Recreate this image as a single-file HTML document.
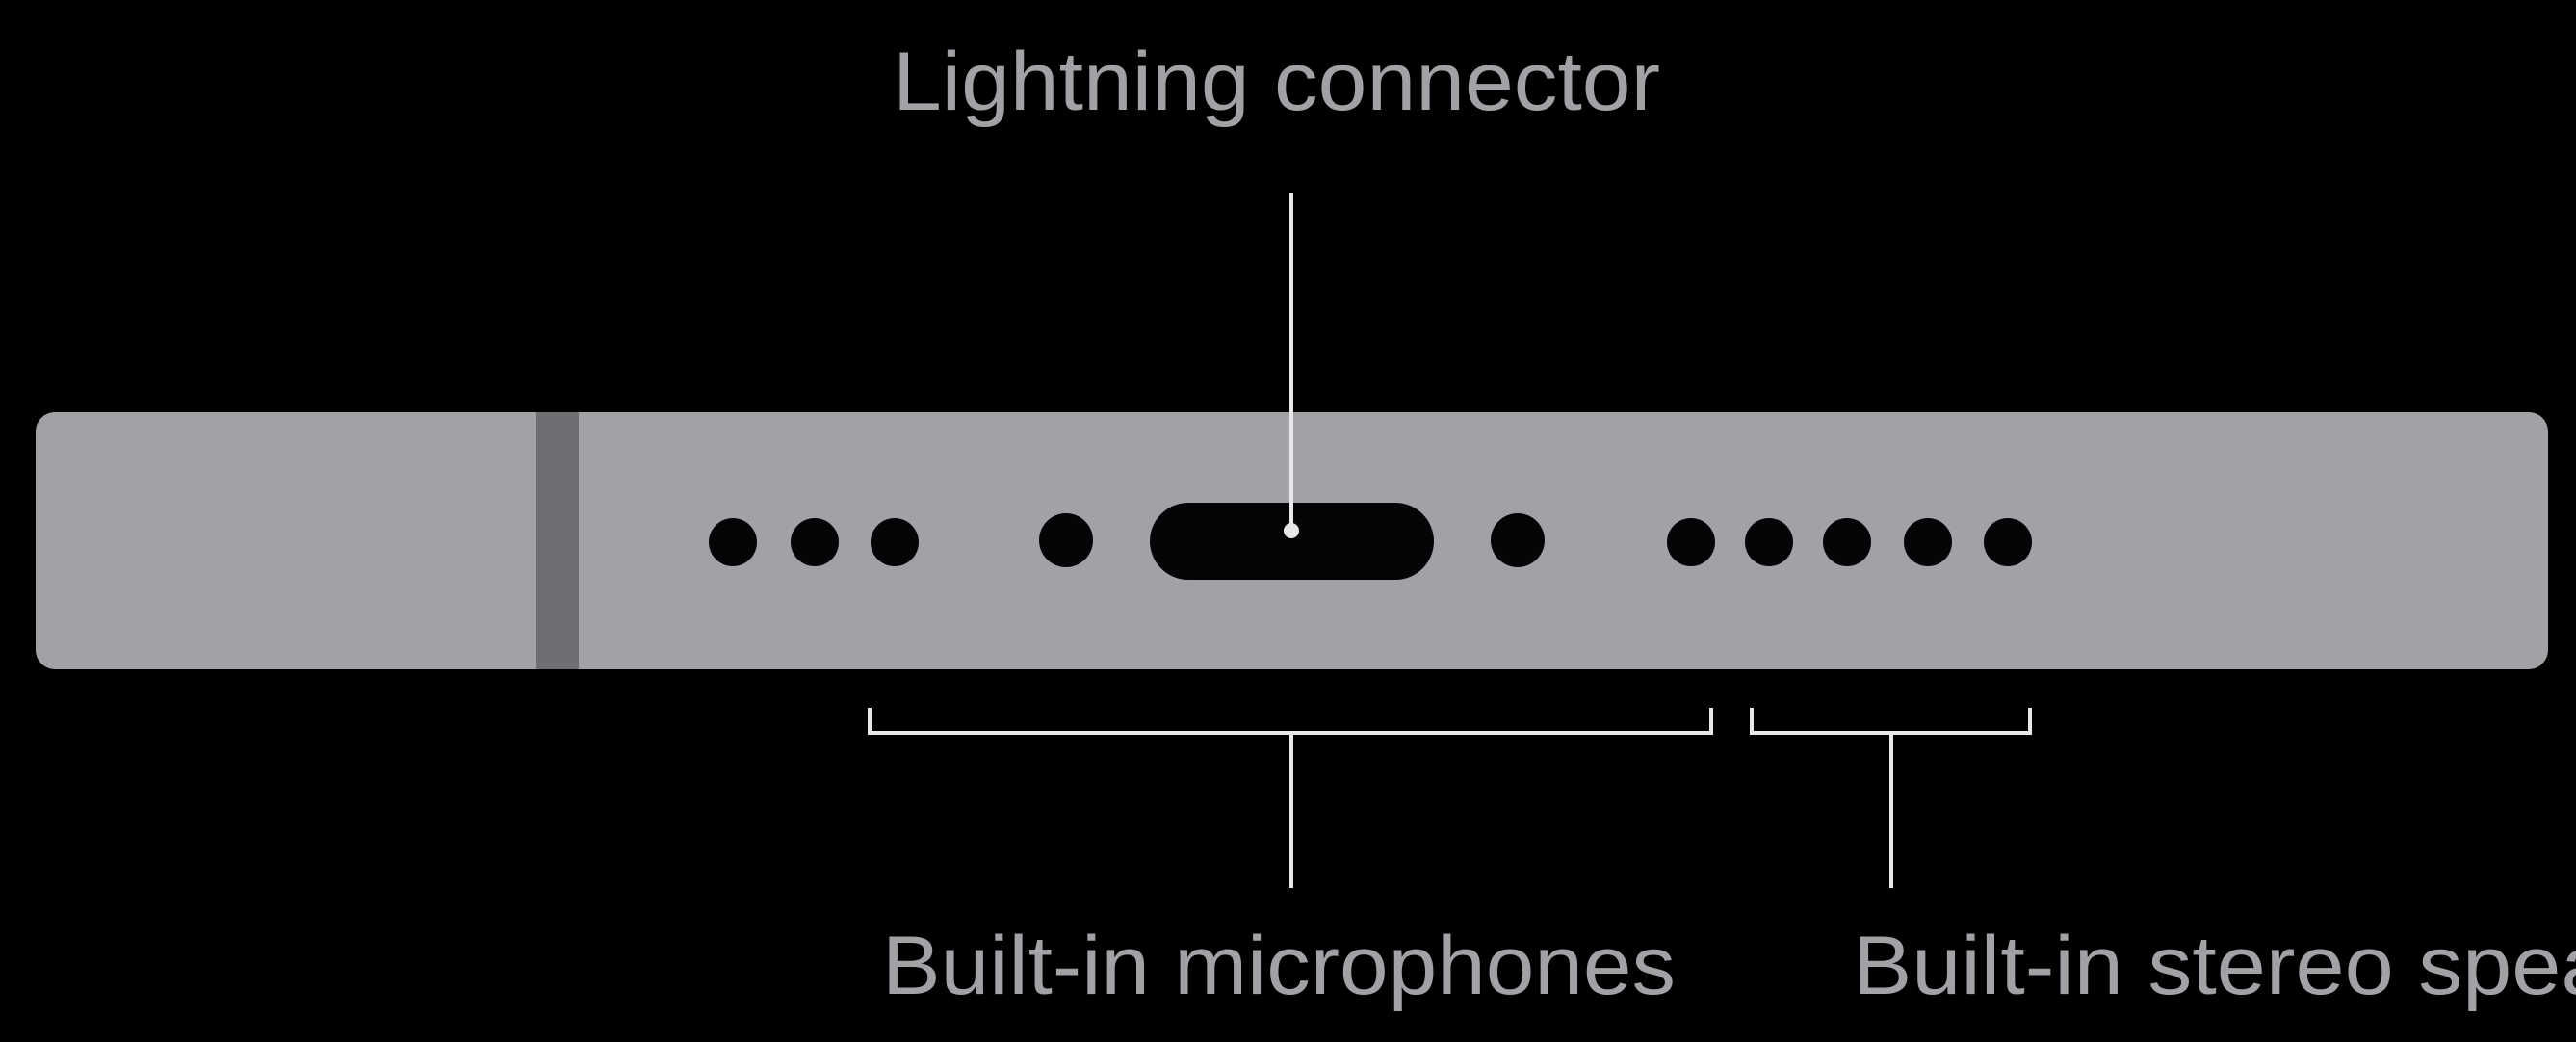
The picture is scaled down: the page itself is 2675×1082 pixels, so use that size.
<!DOCTYPE html>
<html><head><meta charset="utf-8"><style>html,body{margin:0;padding:0;background:#000;overflow:hidden}svg{display:block}</style></head>
<body>
<svg width="2675" height="1082" viewBox="0 0 2675 1082" xmlns="http://www.w3.org/2000/svg">
<rect width="2675" height="1082" fill="#000"/>
<text x="927" y="114" font-family="Liberation Sans, sans-serif" font-size="86" fill="#a1a1a6" textLength="797" lengthAdjust="spacingAndGlyphs">Lightning connector</text>
<rect x="37" y="428" width="2609" height="267" rx="20" fill="#a1a1a6"/>
<rect x="557" y="428" width="44" height="267" fill="#6e6e73"/>
<g fill="#050507">
<ellipse cx="761" cy="563" rx="25" ry="25"/>
<ellipse cx="846" cy="563" rx="25" ry="25"/>
<ellipse cx="929" cy="563" rx="25" ry="25"/>
<ellipse cx="1107" cy="561" rx="28" ry="28"/>
<rect x="1194" y="522" width="295" height="80" rx="40"/>
<ellipse cx="1576" cy="561" rx="28" ry="28"/>
<ellipse cx="1756" cy="563" rx="25" ry="25"/>
<ellipse cx="1837" cy="563" rx="25" ry="25"/>
<ellipse cx="1918" cy="563" rx="25" ry="25"/>
<ellipse cx="2002" cy="563" rx="25" ry="25"/>
<ellipse cx="2085" cy="563" rx="25" ry="25"/>
</g>
<line x1="1341" y1="200" x2="1341" y2="551" stroke="#e8e8ea" stroke-width="4"/>
<circle cx="1341" cy="551" r="8" fill="#e8e8ea"/>
<g stroke="#e8e8ea" stroke-width="4" fill="none">
<polyline points="903,735 903,761 1777,761 1777,735"/>
<polyline points="1819,735 1819,761 2108,761 2108,735"/>
<line x1="1341" y1="761" x2="1341" y2="922"/>
<line x1="1964" y1="761" x2="1964" y2="922"/>
</g>
<text x="916" y="1032" font-family="Liberation Sans, sans-serif" font-size="86" fill="#a1a1a6" textLength="824" lengthAdjust="spacingAndGlyphs">Built-in microphones</text>
<text x="1924" y="1032" font-family="Liberation Sans, sans-serif" font-size="86" fill="#a1a1a6" textLength="960" lengthAdjust="spacingAndGlyphs">Built-in stereo speakers</text>
</svg>
</body></html>
